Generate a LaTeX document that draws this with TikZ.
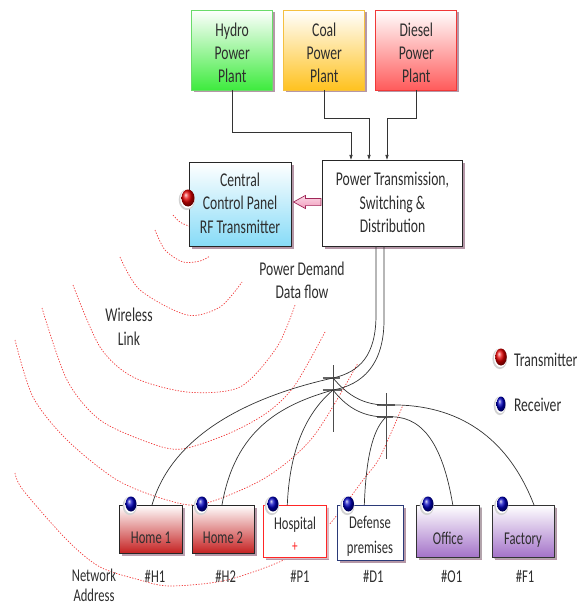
\documentclass[tikz,border=0pt]{standalone}
\usepackage{fontspec}
\setmainfont{Carlito}[FakeStretch=0.7]
\usetikzlibrary{shadows,arrows.meta,calc}
\definecolor{hydroF}{HTML}{3EEB3E}
\definecolor{hydroB}{HTML}{6ADB6A}
\definecolor{coalF}{HTML}{FFC21F}
\definecolor{coalB}{HTML}{F5C040}
\definecolor{dieselF}{HTML}{FF5B5B}
\definecolor{dieselB}{HTML}{F03838}
\definecolor{blueF}{HTML}{86DBF7}
\definecolor{homeF}{HTML}{C52222}
\definecolor{purpF}{HTML}{A473C9}
\definecolor{shad}{HTML}{B597A7}
\definecolor{ink}{HTML}{2E2E2E}
\definecolor{navy}{HTML}{2B3A78}
\definecolor{wavecol}{HTML}{F03A3A}
\definecolor{pinkF}{HTML}{F29DBD}
\definecolor{pinkB}{HTML}{A02858}
\newcommand{\mydot}[4]{%
  \fill[gray!35] ($(#1)+(-1.2,1.8)$) ellipse[x radius=#3pt+1.6pt, y radius=#4pt+1.8pt];
  \fill[white] ($(#1)+(-0.6,0.9)$) ellipse[x radius=#3pt+0.6pt, y radius=#4pt+0.8pt];
  \shade[ball color=#2] (#1) ellipse[x radius=#3pt, y radius=#4pt];}
\begin{document}
\begin{tikzpicture}[x=1pt,y=-1pt,
  every node/.style={inner sep=0pt, outer sep=0pt},
  box/.style={draw, line width=0.7pt, drop shadow={shadow xshift=2.5pt,shadow yshift=-2.5pt,fill=shad,opacity=1}},
  big/.style={font=\fontsize{19.5}{23.3}\selectfont, text=ink, anchor=base},
  small/.style={font=\fontsize{18}{21}\selectfont, text=ink, anchor=base},
  feed/.style={draw=black!80, line width=0.6pt, -{Latex[length=5pt,width=3.5pt]}},
  pline/.style={draw=black!80, line width=0.7pt},
  xarm/.style={draw=black!60, line width=1.1pt},
  pole/.style={draw=black!70, line width=0.6pt},
  wave/.style={draw=wavecol, line width=0.7pt, dash pattern=on 1.3pt off 1.5pt},
  pinkarrow/.style={draw=pinkB, line width=0.7pt, top color=pinkF!40, bottom color=pinkF}
]
\useasboundingbox (0,0) rectangle (586,604);

% ---- wireless waves
\draw[wave] plot[smooth] coordinates {(173,215) (180,222) (189,226) (200,228)};
\draw[wave] plot[smooth] coordinates {(155,230) (165,250) (183,262) (200,261) (210,256)};
\draw[wave] plot[smooth] coordinates {(120,257) (140,290) (187,315) (220,307) (242,282)};
\draw[wave] plot[smooth] coordinates {(73,285) (100,347) (133,377) (187,392) (240,387) (277,347) (295,305)};
\draw[wave] plot[smooth] coordinates {(42,308) (67,380) (100,420) (150,443) (182,449) (230,433) (268,412) (295,385) (325,332)};
\draw[wave] plot[smooth] coordinates {(15,340) (33,397) (67,440) (117,480) (167,500) (203,504) (265,478) (313,437) (358,363)};
\draw[wave] plot[smooth] coordinates {(15,473) (23,490) (67,540) (100,567) (140,580) (170,586) (227,580) (290,557) (327,527) (363,480) (380,457) (403,405)};

% ---- plants
\node[box, draw=hydroB, top color=white, bottom color=hydroF, minimum width=81pt, minimum height=80pt] (hydro) at (232.2,50) {};
\node[box, draw=coalB, top color=white, bottom color=coalF, minimum width=81pt, minimum height=80pt] (coal) at (324.3,50) {};
\node[box, draw=dieselB, top color=white, bottom color=dieselF, minimum width=81pt, minimum height=80pt] (diesel) at (416.3,50) {};
\foreach \n in {hydro,coal,diesel}{
  \node[big] at ($(\n.center)+(0,59.2-50)$) {Power};
  \node[big] at ($(\n.center)+(0,82.5-50)$) {Plant};}
\node[big] at (232.2,36.2) {Hydro};
\node[big] at (324.3,36.2) {Coal};
\node[big] at (416.3,36.2) {Diesel};

% ---- power and control boxes
\node[box, draw=black!85, fill=white, minimum width=140pt, minimum height=86pt] (power) at (392.5,203) {};
\node[box, draw=black!85, top color=white, bottom color=blueF, minimum width=102pt, minimum height=84pt] (central) at (240,204.5) {};
\node[big] at (392.5,185.2) {Power Transmission,};
\node[big] at (392.5,209.2) {Switching \&};
\node[big] at (392.5,232.2) {Distribution};
\node[big] at (240,186.2) {Central};
\node[big] at (240,209.5) {Control Panel};
\node[big] at (240,233.5) {RF Transmitter};

% ---- block arrow from distribution to control panel
\coordinate (at) at ($(central.east)+(2.5,-2.5)$);
\coordinate (as) at ($(power.west)+(-1.5,-1)$);
\path[pinkarrow] ($(as)+(0,-3.6)$) -- ($(at)+(12,-3.6)$) -- ($(at)+(12,-6.6)$) -- (at)
  -- ($(at)+(12,6.6)$) -- ($(at)+(12,3.6)$) -- ($(as)+(0,3.6)$) -- cycle;

% ---- feeds from plants
\coordinate (j1) at (351,132);
\coordinate (j2) at (369,118.3);
\coordinate (j3) at (387,118.3);
\draw[feed] (hydro.south) |- (j1) -- (j1 |- power.north);
\draw[feed] (coal.south) |- (j2) -- (j2 |- power.north);
\draw[feed] (diesel.south) |- (j3) -- (j3 |- power.north);

% ---- consumers
\node[box, draw=black!85, top color=white, bottom color=homeF, minimum width=63pt, minimum height=48pt, drop shadow={shadow xshift=2.5pt,shadow yshift=-2.5pt,fill=shad!80}] (home1) at (151,529) {};
\node[box, draw=black!85, top color=white, bottom color=homeF, minimum width=62pt, minimum height=48pt] (home2) at (223,529) {};
\node[box, draw=red!85, fill=white, minimum width=63pt, minimum height=52pt, drop shadow={shadow xshift=2pt,shadow yshift=-2pt,fill=red!12}] (hosp) at (295.3,531) {};
\node[box, draw=navy, fill=white, minimum width=66pt, minimum height=55pt] (def) at (370.3,532.5) {};
\node[box, draw=black!80, top color=white, bottom color=purpF, minimum width=63pt, minimum height=52pt, drop shadow={shadow xshift=2pt,shadow yshift=-2pt,fill=black!30}] (office) at (448.3,531) {};
\node[box, draw=black!80, top color=white, bottom color=purpF, minimum width=62pt, minimum height=52pt, drop shadow={shadow xshift=2pt,shadow yshift=-2pt,fill=black!30}] (fact) at (523,531) {};
\node[small] at (151,543) {Home 1};
\node[small] at (223,543.7) {Home 2};
\node[small] at (295,529) {Hospital};
\node[text=red!85, font=\fontsize{16}{18}\selectfont] at (295,547) {+};
\node[small] at (370,528.7) {Defense};
\node[small] at (370,553.4) {premises};
\node[small] at (448,544.7) {Office};
\node[small] at (523,544.7) {Factory};

% ---- poles
\coordinate (p1a) at (333,378);
\coordinate (p1b) at (333,390);
\coordinate (p2a) at (386,405);
\coordinate (p2b) at (386,417);
\coordinate (fa) at (376,246);
\coordinate (fb) at (384,246);
\draw[pole] (333,365) -- (333,432);
\draw[pole] (386,393) -- (386,459);
\draw[xarm] (322.7,378) -- (340,378);
\draw[xarm] (322.7,390) -- (341.7,390);
\draw[xarm] (376.7,405) -- (395,405);
\draw[xarm] (376.7,417) -- (393,417);

% ---- power lines
\draw[pline] (fa) -- (376,315) .. controls (376,355) and (360,372) .. (p1a);
\draw[pline] (fb) -- (384,320) .. controls (384,365) and (362,385) .. (p1b);
\draw[pline] (p1a) .. controls (270,392) and (175,425) .. ($(home1.north)+(1,0)$);
\draw[pline] (p1b) .. controls (280,405) and (235,430) .. ($(home2.north)+(-1,0)$);
\draw[pline] (p1b) .. controls (312,408) and (290,440) .. ($(hosp.north)+(-8,0)$);
\draw[pline] (p1a) .. controls (345,392) and (360,405) .. (p2a);
\draw[pline] (p1b) .. controls (345,405) and (360,417) .. (p2b);
\draw[pline] (p2a) .. controls (450,403) and (505,430) .. ($(fact.north)+(11,0)$);
\draw[pline] (p2b) .. controls (420,414) and (442,440) .. ($(office.north)+(4.5,0)$);
\draw[pline] (p2b) .. controls (372,430) and (366,460) .. ($(def.north)+(-6,0)$);

% ---- dots
\coordinate (rd) at (188,198);
\mydot{rd}{red!90!black}{6.5}{8.5}
\coordinate (d1) at (131,504); \mydot{d1}{blue!75!black}{5.5}{7.5}
\coordinate (d2) at (202,504); \mydot{d2}{blue!75!black}{5.5}{7.5}
\coordinate (d3) at (273,504); \mydot{d3}{blue!75!black}{5.5}{7.5}
\coordinate (d4) at (348.5,504); \mydot{d4}{blue!75!black}{5.5}{7.5}
\coordinate (d5) at (428,504); \mydot{d5}{blue!75!black}{5.5}{7.5}
\coordinate (d6) at (502.5,504); \mydot{d6}{blue!75!black}{5.5}{7.5}
\coordinate (lr) at (501,357); \mydot{lr}{red!90!black}{5.8}{8.5}
\coordinate (lb) at (501,404); \mydot{lb}{blue!75!black}{4.5}{7.5}

% ---- free labels
\node[big, anchor=base west] at (514,366) {Transmitter};
\node[big, anchor=base west] at (514,411.7) {Receiver};
\node[big] at (302,275.5) {Power Demand};
\node[big] at (302,298.5) {Data flow};
\node[big] at (129,321.2) {Wireless};
\node[big] at (129,345.2) {Link};
\node[small] at (94,581.5) {Network};
\node[small] at (94,601) {Address};
\node[small] at (155,582.4) {\#H1};
\node[small] at (225.7,582.4) {\#H2};
\node[small] at (300,582.4) {\#P1};
\node[small] at (373.3,582.4) {\#D1};
\node[small] at (451.7,582.4) {\#O1};
\node[small] at (525,582.4) {\#F1};
\end{tikzpicture}
\end{document}
